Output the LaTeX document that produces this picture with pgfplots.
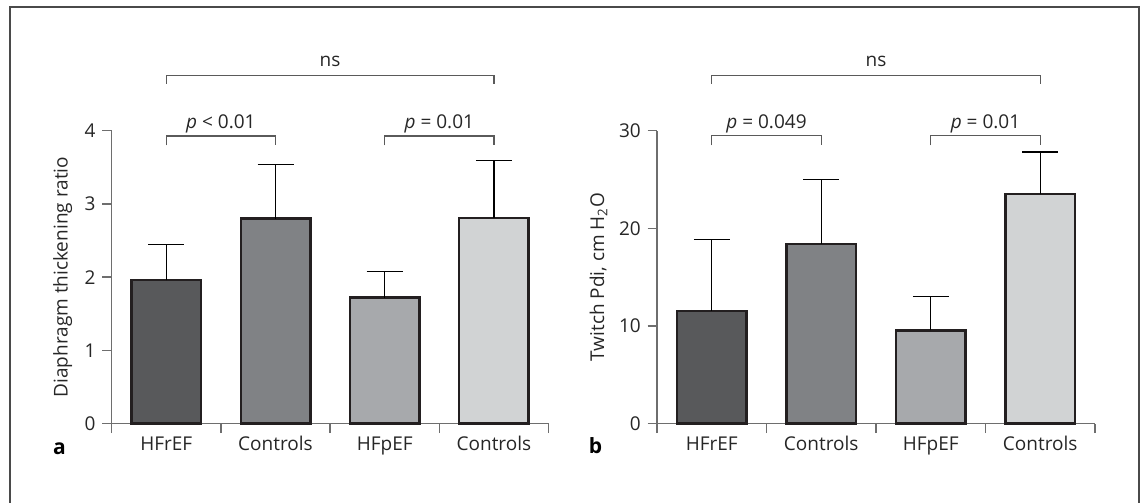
\documentclass[border=0pt]{standalone}
\usepackage{pgfplots}
\pgfplotsset{compat=1.18}
\usepackage{fontspec}
\setmainfont{Open Sans}
\definecolor{txt}{HTML}{262626}
\definecolor{axc}{HTML}{6E6E6E}
\definecolor{brc}{HTML}{5A5A5A}
\definecolor{frm}{HTML}{4A4A4A}
\definecolor{cA}{HTML}{58595B}
\definecolor{cB}{HTML}{808285}
\definecolor{cC}{HTML}{A7A9AC}
\definecolor{cD}{HTML}{D1D3D4}
\definecolor{outl}{HTML}{231F20}
\pgfplotsset{
  panel/.style={
    anchor=south west,
    xmin=0, xmax=4, ymin=0,
    enlargelimits=false,
    clip=false,
    axis x line*=bottom, axis y line*=left,
    axis line style={draw=axc, line width=1.5bp},
    tick align=outside,
    major tick length=9.5bp,
    tick style={draw=axc, line width=1.5bp},
    xtick={0,1,2,3,4}, xticklabels={},
    extra x ticks={0.5,1.5,2.5,3.5},
    extra x tick labels={HFrEF,Controls,HFpEF,Controls},
    extra x tick style={major tick length=0pt},
    xticklabel style={anchor=base, yshift=-27bp, inner sep=0pt},
    yticklabel style={anchor=east, inner sep=0pt, xshift=-6.5bp},
    /pgf/number format/assume math mode=true,
    font=\fontsize{19bp}{22bp}\selectfont,
    every tick label/.append style={text=txt},
    ylabel style={rotate=0, anchor=south, text=txt},
  },
  bar/.style={ybar, bar shift=0pt, bar width=69.5bp, draw=outl, line width=2.5bp, fill=#1,
    error bars/.cd, y dir=plus, y explicit,
    error bar style={line width=1.4bp, black},
    error mark options={rotate=90, mark size=18bp, line width=1.4bp, black}},
}
\tikzset{brk/.style={draw=brc, line width=1.4bp}, ann/.style={text=txt, anchor=base, inner sep=0pt, font=\fontsize{19bp}{22bp}\selectfont}}
\begin{document}
\begin{tikzpicture}
% frame
\draw[frm, line width=2bp] (10bp,0) -- (10bp,496.3bp) -- (1138.7bp,496.3bp) -- (1138.7bp,0);
% panel a
\begin{axis}[panel, at={(111.7bp,79.3bp)}, x=109.2bp, y=73.25bp, ymax=4,
  ytick={0,1,2,3,4},
  ylabel={Diaphragm thickening ratio},
  ylabel style={at={(axis description cs:-0.112,0.5)}, anchor=center}]
\addplot[bar=cA] coordinates {(0.5,1.96) +- (0,0.49)};
\addplot[bar=cB] coordinates {(1.5,2.80) +- (0,0.74)};
\addplot[bar=cC] coordinates {(2.5,1.72) +- (0,0.36)};
\addplot[bar=cD] coordinates {(3.5,2.81) +- (0,0.78)};
\draw[brk] (axis cs:0.5,4.64) -- (axis cs:0.5,4.756) -- (axis cs:3.5,4.756) -- (axis cs:3.5,4.64);
\draw[brk] (axis cs:0.5,3.80) -- (axis cs:0.5,3.93) -- (axis cs:1.5,3.93) -- (axis cs:1.5,3.80);
\draw[brk] (axis cs:2.5,3.80) -- (axis cs:2.5,3.93) -- (axis cs:3.5,3.93) -- (axis cs:3.5,3.80);
\node[ann] at (axis cs:2,4.874) {ns};
\node[ann] at (axis cs:1,4.033) {\textit{p} < 0.01};
\node[ann] at (axis cs:3,4.033) {\textit{p} = 0.01};
\node[ann, font=\fontsize{21bp}{24bp}\selectfont\bfseries, text=black] at (axis cs:-0.478,-0.414) {a};
\end{axis}
% panel b
\begin{axis}[panel, at={(657bp,79.3bp)}, x=109.5bp, y=9.767bp, ymax=30,
  ytick={0,10,20,30},
  ylabel={Twitch Pdi, cm H\textsubscript{2}O},
  ylabel style={at={(axis description cs:-0.1336,0.5)}, anchor=center}]
\addplot[bar=cA] coordinates {(0.5,11.54) +- (0,7.34)};
\addplot[bar=cB] coordinates {(1.5,18.42) +- (0,6.59)};
\addplot[bar=cC] coordinates {(2.5,9.56) +- (0,3.44)};
\addplot[bar=cD] coordinates {(3.5,23.51) +- (0,4.30)};
\draw[brk] (axis cs:0.5,34.78) -- (axis cs:0.5,35.67) -- (axis cs:3.5,35.67) -- (axis cs:3.5,34.78);
\draw[brk] (axis cs:0.5,28.5) -- (axis cs:0.5,29.49) -- (axis cs:1.5,29.49) -- (axis cs:1.5,28.5);
\draw[brk] (axis cs:2.5,28.5) -- (axis cs:2.5,29.49) -- (axis cs:3.5,29.49) -- (axis cs:3.5,28.5);
\node[ann] at (axis cs:2,36.55) {ns};
\node[ann] at (axis cs:1,30.25) {\textit{p} = 0.049};
\node[ann] at (axis cs:3,30.25) {\textit{p} = 0.01};
\node[ann, font=\fontsize{21bp}{24bp}\selectfont\bfseries, text=black] at (axis cs:-0.562,-3.10) {b};
\end{axis}
\pgfresetboundingbox
\path[use as bounding box] (0,0) rectangle (1144bp,503bp);
\end{tikzpicture}
\end{document}
